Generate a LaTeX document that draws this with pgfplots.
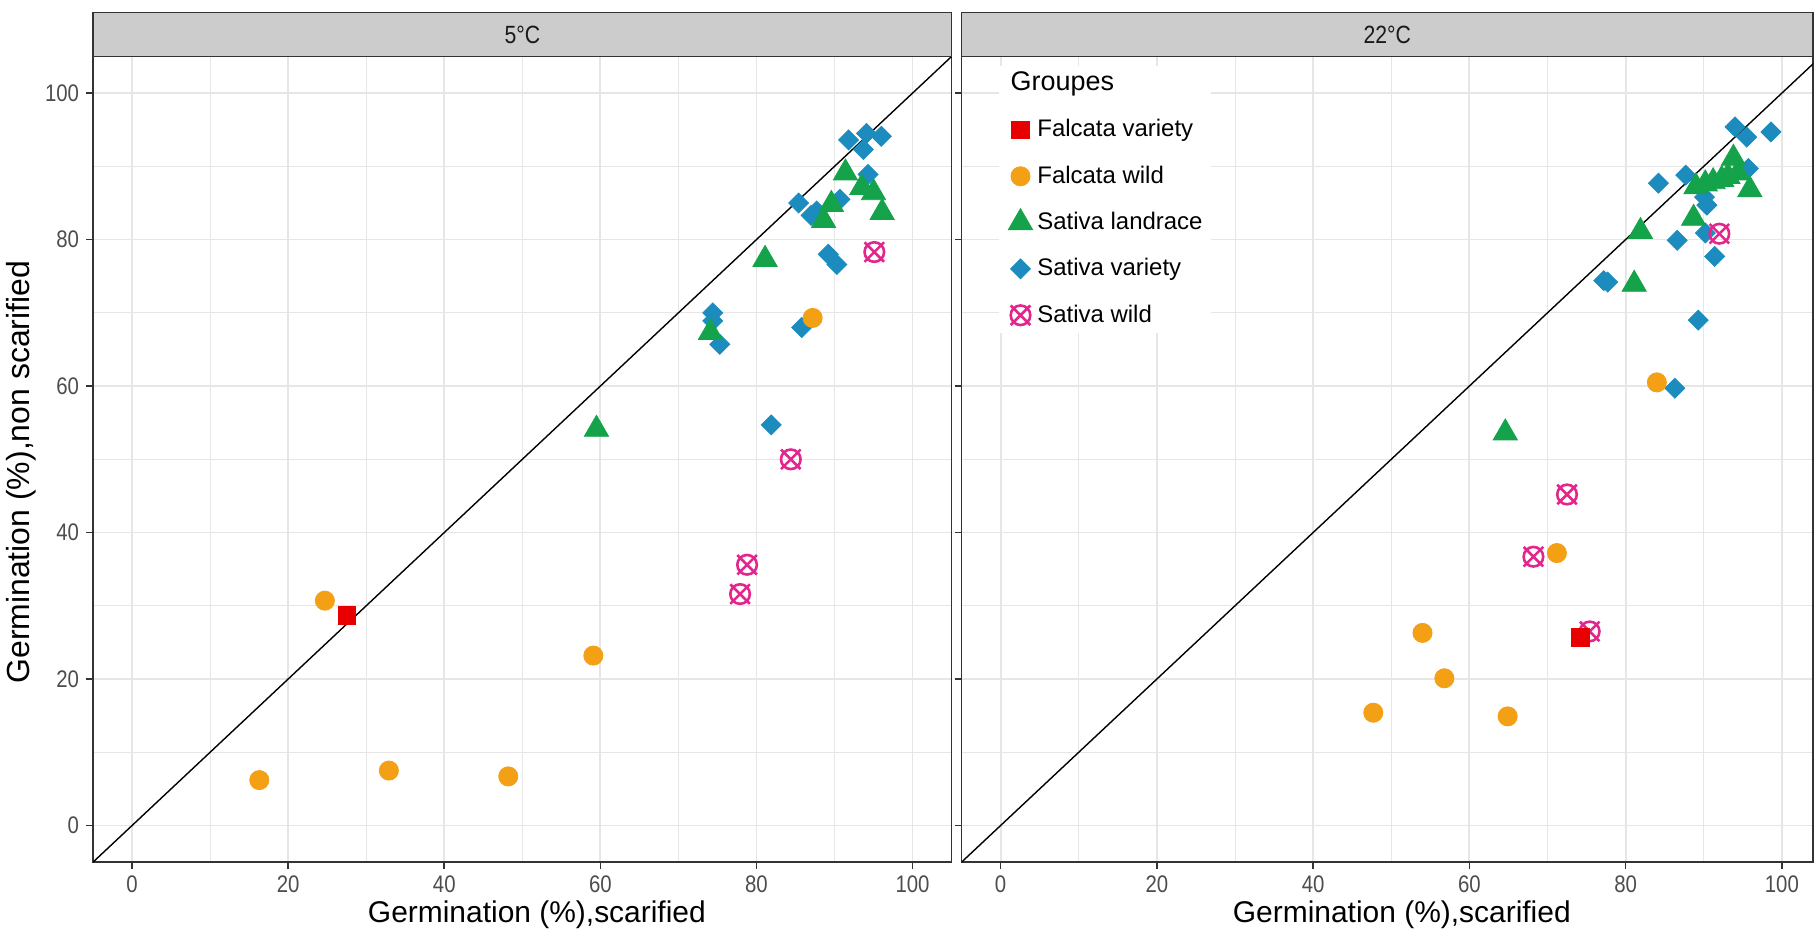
\documentclass[border=0pt]{standalone}
\usepackage{fontspec}
\setmainfont{Liberation Sans}
\newfontfamily\narrowfont[FakeStretch=0.85]{Liberation Sans}
\usepackage{pgfplots}
\pgfplotsset{compat=1.18}

\definecolor{fvar}{RGB}{232,0,0}
\definecolor{fwild}{RGB}{244,160,20}
\definecolor{land}{RGB}{20,163,74}
\definecolor{svar}{RGB}{28,140,190}
\definecolor{swild}{RGB}{226,38,140}
\definecolor{grid92}{RGB}{230,230,230}
\definecolor{grey20}{RGB}{51,51,51}
\definecolor{grey30}{RGB}{77,77,77}
\definecolor{grey10}{RGB}{26,26,26}
\definecolor{stripfill}{RGB}{204,204,204}

\pgfdeclareplotmark{otimes}{%
  \pgfpathcircle{\pgfpointorigin}{\pgfplotmarksize}%
  \pgfpathmoveto{\pgfqpoint{-\pgfplotmarksize}{-\pgfplotmarksize}}%
  \pgfpathlineto{\pgfqpoint{\pgfplotmarksize}{\pgfplotmarksize}}%
  \pgfpathmoveto{\pgfqpoint{-\pgfplotmarksize}{\pgfplotmarksize}}%
  \pgfpathlineto{\pgfqpoint{\pgfplotmarksize}{-\pgfplotmarksize}}%
  \pgfusepathqstroke}

\pgfplotsset{
  panel/.style={
    scale only axis, width=430pt, height=403.5pt,
    xmin=-5, xmax=105, ymin=-5, ymax=105,
    xtick={0,20,...,100}, ytick={0,20,...,100},
    minor xtick={10,30,...,90}, minor ytick={10,30,...,90},
    grid=both,
    major grid style={color=grid92, line width=0.9pt},
    minor grid style={color=grid92, line width=0.5pt},
    axis line style={grey20, line width=0.9pt},
    tick align=outside, tick pos=left,
    major tick length=3.5pt, minor tick length=0pt,
    major tick style={grey20, line width=0.8pt},
    ticklabel style={font=\narrowfont\fontsize{12}{14}\selectfont, text=grey30},
    /pgf/number format/assume math mode=true,
    xlabel={Germination (\%),scarified},
    xlabel style={font=\fontsize{15}{17}\selectfont, at={(axis description cs:0.517,-0.0657)}, anchor=center},
  },
  svarst/.style={only marks, mark=diamond*, mark size=5pt, color=svar, mark options={xscale=1.333, fill=svar, draw=svar}},
  swildst/.style={only marks, mark=otimes, mark size=4.9pt, color=swild, mark options={line width=1.3pt}},
  fwildst/.style={only marks, mark=*, mark size=4.8pt, color=fwild, mark options={fill=fwild, draw=fwild}},
  landst/.style={only marks, mark=triangle*, mark size=7pt, color=land, mark options={fill=land, draw=land}},
  fvarst/.style={only marks, mark=square*, mark size=4.4pt, color=fvar, mark options={fill=fvar, draw=fvar}},
}

\begin{document}
\begin{tikzpicture}

% ---------------- 5 C ----------------
\begin{axis}[panel, name=L,
  ylabel={Germination (\%),non scarified},
  ylabel style={font=\fontsize{16}{18}\selectfont, at={(axis description cs:-0.0833,0.484)}, anchor=center},
]
\addplot[black, line width=0.7pt, forget plot] coordinates {(-5,-5) (105,105)};
\addplot[svarst] table {
x y
91.8 93.6
94.1 94.5
93.7 92.3
96.0 94.1
94.3 88.9
90.7 85.5
87.7 83.9
87.0 83.3
85.4 85.0
89.2 78.0
90.3 76.6
74.4 70.0
74.4 68.9
75.3 65.7
85.8 68.0
81.9 54.7
};
\addplot[swildst] table {
x y
95.1 78.3
84.4 50.0
78.8 35.6
77.9 31.6
};
\addplot[fwildst] table {
x y
16.3 6.2
24.7 30.7
32.9 7.5
48.2 6.7
59.1 23.2
87.2 69.3
};
\addplot[landst] table {
x y
59.5 54.1
74.1 67.3
81.1 77.3
88.6 82.6
89.6 84.8
91.4 89.1
93.5 87.1
95.0 86.4
96.1 83.7
};
\addplot[fvarst] table {
x y
27.5 28.7
};
\end{axis}
\draw[fill=stripfill, draw=grey20, line width=0.9pt] (L.north west) rectangle ([yshift=22pt]L.north east);
\node[font=\narrowfont\fontsize{12.5}{14}\selectfont, text=grey10] at ([yshift=11pt]L.north) {5°C};

% ---------------- 22 C ----------------
\begin{axis}[panel, name=R, at={(L.south east)}, anchor=south west, xshift=5pt,
  width=426.5pt, xmax=104,
  yticklabels={}, 
  legend style={at={(axis cs:-0.2,103.8)}, anchor=north west, fill=white, draw=none,
    font=\fontsize{12}{14}\selectfont, row sep=9.2pt, inner xsep=2pt, inner ysep=2pt,
    /tikz/every odd column/.append style={column sep=0.4pt},
    /tikz/every even column/.append style={text height=8.5pt, text depth=2.5pt}},
  legend cell align=left,
]
\addlegendimage{empty legend}
\addlegendentry{\hspace*{-13.4pt}\fontsize{13.5}{15}\selectfont Groupes}
\addlegendimage{fvarst}
\addlegendentry{Falcata variety}
\addlegendimage{fwildst}
\addlegendentry{Falcata wild}
\addlegendimage{landst}
\addlegendentry{Sativa landrace}
\addlegendimage{svarst}
\addlegendentry{Sativa variety}
\addlegendimage{swildst}
\addlegendentry{Sativa wild}

\addplot[black, line width=0.7pt, forget plot] coordinates {(-5,-5) (105,105)};
\addplot[svarst, forget plot] table {
x y
94.0 95.4
95.5 94.0
98.6 94.7
95.7 89.7
87.7 88.8
84.2 87.7
90.1 85.8
90.4 84.7
90.2 80.9
86.6 79.9
91.4 77.7
77.2 74.4
77.7 74.2
89.3 69.0
86.3 59.7
};
\addplot[swildst, forget plot] table {
x y
92.0 80.8
72.5 45.2
68.2 36.7
75.4 26.5
};
\addplot[fwildst, forget plot] table {
x y
84.0 60.5
71.2 37.2
54.0 26.3
56.8 20.1
47.7 15.4
64.9 14.9
};
\addplot[landst, forget plot] table {
x y
93.8 91.1
95.9 86.8
88.7 82.9
81.9 81.1
81.1 73.9
64.6 53.6
89.0 87.2
90.2 87.6
91.2 87.9
92.3 88.2
93.1 88.6
94.4 89.1
};
\addplot[fvarst, forget plot] table {
x y
74.2 25.7
};
\end{axis}
\draw[fill=stripfill, draw=grey20, line width=0.9pt] (R.north west) rectangle ([yshift=22pt]R.north east);
\node[font=\narrowfont\fontsize{12.5}{14}\selectfont, text=grey10] at ([yshift=11pt]R.north) {22°C};

\path ([xshift=-46.3pt,yshift=-35.8pt]L.south west) rectangle ([yshift=28.3pt]R.north east);
\end{tikzpicture}
\end{document}
